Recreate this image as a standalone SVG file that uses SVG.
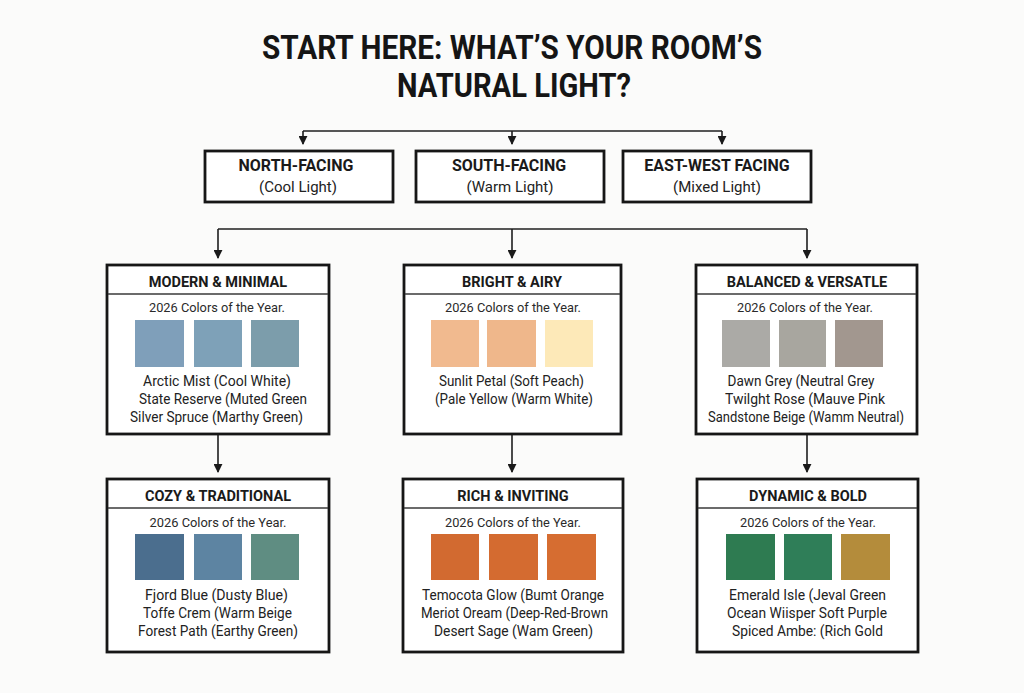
<svg xmlns="http://www.w3.org/2000/svg" width="1024" height="693" viewBox="0 0 1024 693">
<defs>
<marker id="arr" viewBox="0 0 10 10" refX="9" refY="5" markerWidth="9" markerHeight="9" markerUnits="userSpaceOnUse" orient="auto">
<path d="M0,0 L10,5 L0,10 z" fill="#1a1a1a"/>
</marker>
<style>
.bg{fill:#fbfbfa}
.box{fill:#ffffff;stroke:#161616;stroke-width:2.8}
.div{stroke:#3a3a3a;stroke-width:1.3}
.con{fill:none;stroke:#1f1f1f;stroke-width:1.6}
.title{font-family:Roboto,"Liberation Sans",sans-serif;font-weight:700;font-size:34px;fill:#151515;text-anchor:middle}
.h{font-family:Roboto,"Liberation Sans",sans-serif;font-weight:700;font-size:16px;fill:#1a1a1a;text-anchor:middle}
.s{font-family:Roboto,"Liberation Sans",sans-serif;font-size:15px;fill:#222;text-anchor:middle}
.h2{font-family:Roboto,"Liberation Sans",sans-serif;font-weight:700;font-size:14.5px;fill:#1a1a1a;text-anchor:middle}
.c{font-family:Roboto,"Liberation Sans",sans-serif;font-size:13.5px;fill:#2a2a2a;text-anchor:middle}
.t{font-family:Roboto,"Liberation Sans",sans-serif;font-size:14.5px;fill:#222;text-anchor:middle}
</style>
</defs>
<rect class="bg" x="0" y="0" width="1024" height="693"/>

<g id="title">
<text class="title" x="512" y="59" textLength="500" lengthAdjust="spacingAndGlyphs">START HERE: WHAT’S YOUR ROOM’S</text>
<text class="title" x="514" y="97" textLength="234" lengthAdjust="spacingAndGlyphs">NATURAL LIGHT?</text>
</g>

<g id="connectors">
<path class="con" d="M303,131 H722"/>
<path class="con" d="M303,131 V144" marker-end="url(#arr)"/>
<path class="con" d="M512,131 V144" marker-end="url(#arr)"/>
<path class="con" d="M722,131 V144" marker-end="url(#arr)"/>
<path class="con" d="M218,229 H807"/>
<path class="con" d="M218,229 V258" marker-end="url(#arr)"/>
<path class="con" d="M512,229 V258" marker-end="url(#arr)"/>
<path class="con" d="M807,229 V258" marker-end="url(#arr)"/>
<path class="con" d="M218,434 V472" marker-end="url(#arr)"/>
<path class="con" d="M512,434 V472" marker-end="url(#arr)"/>
<path class="con" d="M807,434 V472" marker-end="url(#arr)"/>
</g>

<g id="north">
<rect class="box" x="205" y="151" width="188" height="51"/>
<text class="h" x="296" y="171">NORTH-FACING</text>
<text class="s" x="298" y="192">(Cool Light)</text>
</g>
<g id="south">
<rect class="box" x="416" y="151" width="188" height="51"/>
<text class="h" x="509" y="171">SOUTH-FACING</text>
<text class="s" x="510" y="192">(Warm Light)</text>
</g>
<g id="eastwest">
<rect class="box" x="623" y="151" width="188" height="51"/>
<text class="h" x="717" y="171">EAST-WEST FACING</text>
<text class="s" x="717" y="192">(Mixed Light)</text>
</g>

<g id="modern">
<rect class="box" x="107" y="265" width="222" height="169"/>
<line class="div" x1="108" y1="294" x2="328" y2="294"/>
<text class="h2" x="218" y="287">MODERN &amp; MINIMAL</text>
<text class="c" x="217" y="312" textLength="136" lengthAdjust="spacingAndGlyphs">2026 Colors of the Year.</text>
<rect x="135" y="320" width="49" height="47" fill="#7f9fba"/>
<rect x="194" y="320" width="48" height="47" fill="#7ea1b8"/>
<rect x="251" y="320" width="48" height="47" fill="#7c9dab"/>
<text class="t" x="217" y="386" textLength="148" lengthAdjust="spacingAndGlyphs">Arctic Mist (Cool White)</text>
<text class="t" x="223" y="404" textLength="168" lengthAdjust="spacingAndGlyphs">State Reserve (Muted Green</text>
<text class="t" x="216.5" y="422" textLength="173" lengthAdjust="spacingAndGlyphs">Silver Spruce (Marthy Green)</text>
</g>

<g id="bright">
<rect class="box" x="404" y="265" width="217" height="169"/>
<line class="div" x1="405" y1="294" x2="620" y2="294"/>
<text class="h2" x="512" y="287">BRIGHT &amp; AIRY</text>
<text class="c" x="513" y="312" textLength="136" lengthAdjust="spacingAndGlyphs">2026 Colors of the Year.</text>
<rect x="431" y="320" width="48" height="47" fill="#f1ba8f"/>
<rect x="487" y="320" width="49" height="47" fill="#efb78b"/>
<rect x="545" y="320" width="48" height="47" fill="#fde9b8"/>
<text class="t" x="511.5" y="386" textLength="145" lengthAdjust="spacingAndGlyphs">Sunlit Petal (Soft Peach)</text>
<text class="t" x="514" y="404" textLength="158" lengthAdjust="spacingAndGlyphs">(Pale Yellow (Warm White)</text>
</g>

<g id="balanced">
<rect class="box" x="696" y="265" width="221" height="169"/>
<line class="div" x1="697" y1="294" x2="916" y2="294"/>
<text class="h2" x="807" y="287">BALANCED &amp; VERSATLE</text>
<text class="c" x="805" y="312" textLength="136" lengthAdjust="spacingAndGlyphs">2026 Colors of the Year.</text>
<rect x="722" y="320" width="48" height="47" fill="#abaaa6"/>
<rect x="779" y="320" width="47" height="47" fill="#a8a69f"/>
<rect x="835" y="320" width="48" height="47" fill="#a2978f"/>
<text class="t" x="801" y="386" textLength="147" lengthAdjust="spacingAndGlyphs">Dawn Grey (Neutral Grey</text>
<text class="t" x="805" y="404" textLength="160" lengthAdjust="spacingAndGlyphs">Twilght Rose (Mauve Pink</text>
<text class="t" x="806" y="422" textLength="196" lengthAdjust="spacingAndGlyphs">Sandstone Beige (Wamm Neutral)</text>
</g>

<g id="cozy">
<rect class="box" x="107" y="479" width="222" height="173"/>
<line class="div" x1="108" y1="508" x2="328" y2="508"/>
<text class="h2" x="218" y="501">COZY &amp; TRADITIONAL</text>
<text class="c" x="218" y="527" textLength="137" lengthAdjust="spacingAndGlyphs">2026 Colors of the Year.</text>
<rect x="135" y="534" width="49" height="46" fill="#4b6e8e"/>
<rect x="194" y="534" width="48" height="46" fill="#5d84a2"/>
<rect x="251" y="534" width="48" height="46" fill="#5f8d82"/>
<text class="t" x="216.5" y="600" textLength="143" lengthAdjust="spacingAndGlyphs">Fjord Blue (Dusty Blue)</text>
<text class="t" x="217.5" y="618" textLength="149" lengthAdjust="spacingAndGlyphs">Toffe Crem (Warm Beige</text>
<text class="t" x="218" y="636" textLength="160" lengthAdjust="spacingAndGlyphs">Forest Path (Earthy Green)</text>
</g>

<g id="rich">
<rect class="box" x="403" y="479" width="220" height="173"/>
<line class="div" x1="404" y1="508" x2="622" y2="508"/>
<text class="h2" x="513" y="501">RICH &amp; INVITING</text>
<text class="c" x="513" y="527" textLength="136" lengthAdjust="spacingAndGlyphs">2026 Colors of the Year.</text>
<rect x="431" y="534" width="48" height="46" fill="#d26a30"/>
<rect x="489" y="534" width="49" height="46" fill="#d46b30"/>
<rect x="547" y="534" width="49" height="46" fill="#d66d31"/>
<text class="t" x="513" y="600" textLength="182" lengthAdjust="spacingAndGlyphs">Temocota Glow (Bumt Orange</text>
<text class="t" x="514.5" y="618" textLength="187" lengthAdjust="spacingAndGlyphs">Meriot Oream (Deep-Red-Brown</text>
<text class="t" x="513.5" y="636" textLength="159" lengthAdjust="spacingAndGlyphs">Desert Sage (Wam Green)</text>
</g>

<g id="dynamic">
<rect class="box" x="697" y="479" width="221" height="173"/>
<line class="div" x1="698" y1="508" x2="917" y2="508"/>
<text class="h2" x="808" y="501">DYNAMIC &amp; BOLD</text>
<text class="c" x="808" y="527" textLength="136" lengthAdjust="spacingAndGlyphs">2026 Colors of the Year.</text>
<rect x="726" y="534" width="49" height="46" fill="#2e7b51"/>
<rect x="784" y="534" width="48" height="46" fill="#2f7e58"/>
<rect x="841" y="534" width="49" height="46" fill="#b48c3b"/>
<text class="t" x="807.5" y="600" textLength="157" lengthAdjust="spacingAndGlyphs">Emerald Isle (Jeval Green</text>
<text class="t" x="807" y="618" textLength="160" lengthAdjust="spacingAndGlyphs">Ocean Wiisper Soft Purple</text>
<text class="t" x="807.5" y="636" textLength="151" lengthAdjust="spacingAndGlyphs">Spiced Ambe: (Rich Gold</text>
</g>
</svg>
